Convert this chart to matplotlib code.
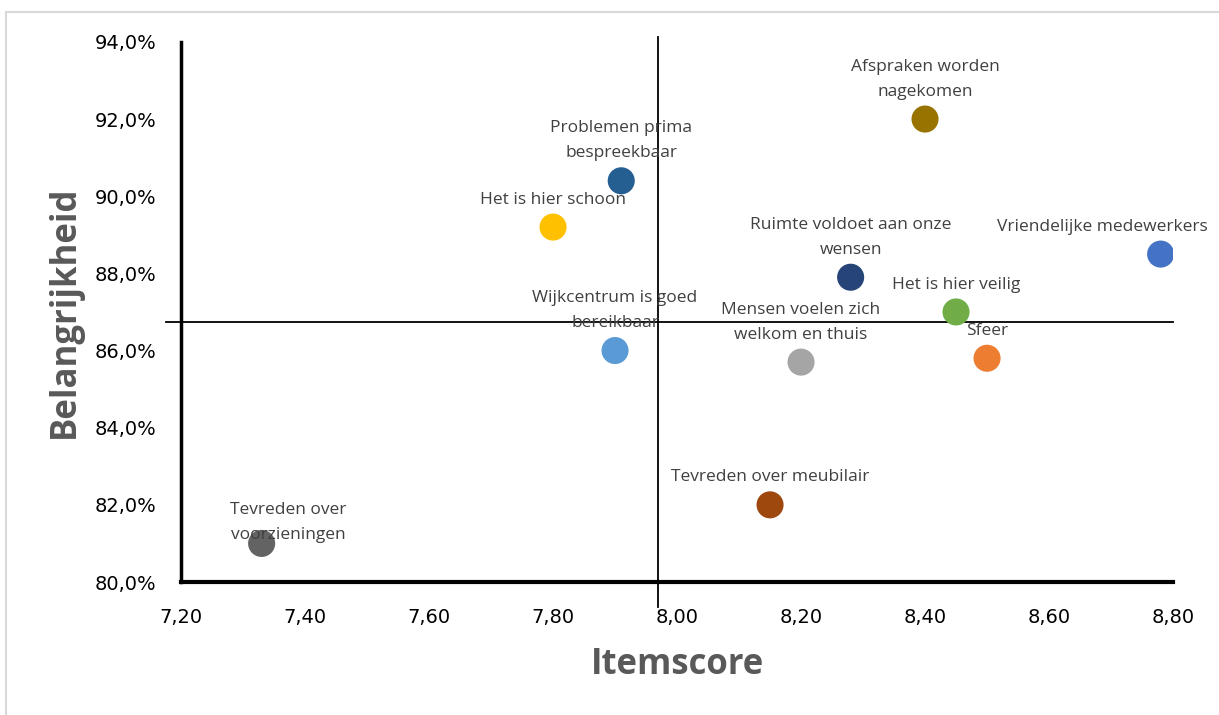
import matplotlib
matplotlib.use("Agg")
import matplotlib.pyplot as plt
from matplotlib.patches import Rectangle
from matplotlib.ticker import FuncFormatter

# data
items = ["Tevreden over\nvoorzieningen", "Tevreden over meubilair",
         "Wijkcentrum is goed\nbereikbaar", "Het is hier schoon",
         "Problemen prima\nbespreekbaar", "Afspraken worden\nnagekomen",
         "Ruimte voldoet aan onze\nwensen", "Vriendelijke medewerkers",
         "Het is hier veilig", "Sfeer", "Mensen voelen zich\nwelkom en thuis"]
itemscore = [7.33, 8.15, 7.90, 7.80, 7.91, 8.40, 8.28, 8.78, 8.45, 8.50, 8.20]
belang = [81.0, 82.0, 86.0, 89.2, 90.4, 92.0, 87.9, 88.5, 87.0, 85.8, 85.7]
gem_score = 7.97
gem_belang = 86.74

kleuren = ["#636363", "#9E480E", "#5B9BD5", "#FFC000", "#255E91", "#997300",
           "#264478", "#4472C4", "#70AD47", "#ED7D31", "#A5A5A5"]
# label offsets in points (some labels were moved in the original)
offsets = [(19, 0), (0, 14), (0, 14), (0, 14), (0, 14), (0, 14),
           (0, 14), (-42, 14), (0, 14), (0, 14), (0, 14)]

fig = plt.figure(figsize=(12.19, 7.15), dpi=100)
ax = fig.add_axes([0.1485, 0.186, 0.8138, 0.7554])

# light border of chart area
fig.patches.append(Rectangle((6 / 1219, -0.05), 1.1, 1 - 12 / 715 + 0.05,
                             transform=fig.transFigure, fill=False,
                             edgecolor="#d9d9d9", lw=1.5))

# quadrant lines
ax.plot([gem_score, gem_score], [79.35, 94.13], color="black", lw=1.3, clip_on=False, zorder=1)
ax.plot([7.176, 8.80], [gem_belang, gem_belang], color="black", lw=1.3, clip_on=False, zorder=1)

ax.scatter(itemscore, belang, s=380, c=kleuren, zorder=3, linewidths=0)

for naam, x, y, off in zip(items, itemscore, belang, offsets):
    ax.annotate(naam, (x, y), xytext=off, textcoords="offset points",
                ha="center", va="bottom", fontsize=12.5, color="#404040",
                family="Open Sans", linespacing=1.75, zorder=4)

ax.set_xlim(7.2, 8.8)
ax.set_ylim(80, 94)
ax.set_xticks([7.2 + 0.2 * i for i in range(9)])
ax.set_yticks([80, 82, 84, 86, 88, 90, 92, 94])
ax.xaxis.set_major_formatter(FuncFormatter(lambda v, p: f"{v:.2f}".replace(".", ",")))
ax.yaxis.set_major_formatter(FuncFormatter(lambda v, p: f"{v:.1f}%".replace(".", ",")))
ax.tick_params(length=0, labelsize=14)
ax.tick_params(axis="y", pad=18)
ax.tick_params(axis="x", pad=19)

for s in ["top", "right"]:
    ax.spines[s].set_visible(False)
ax.spines["left"].set_linewidth(2.5)
ax.spines["bottom"].set_linewidth(3)

ax.set_xlabel("Itemscore", fontsize=25, fontweight="bold", color="#595959",
              family="Open Sans", labelpad=14)
ax.set_ylabel("Belangrijkheid", fontsize=25, fontweight="bold", color="#595959",
              family="Open Sans", labelpad=8)

fig.savefig("out.png", dpi=100)
